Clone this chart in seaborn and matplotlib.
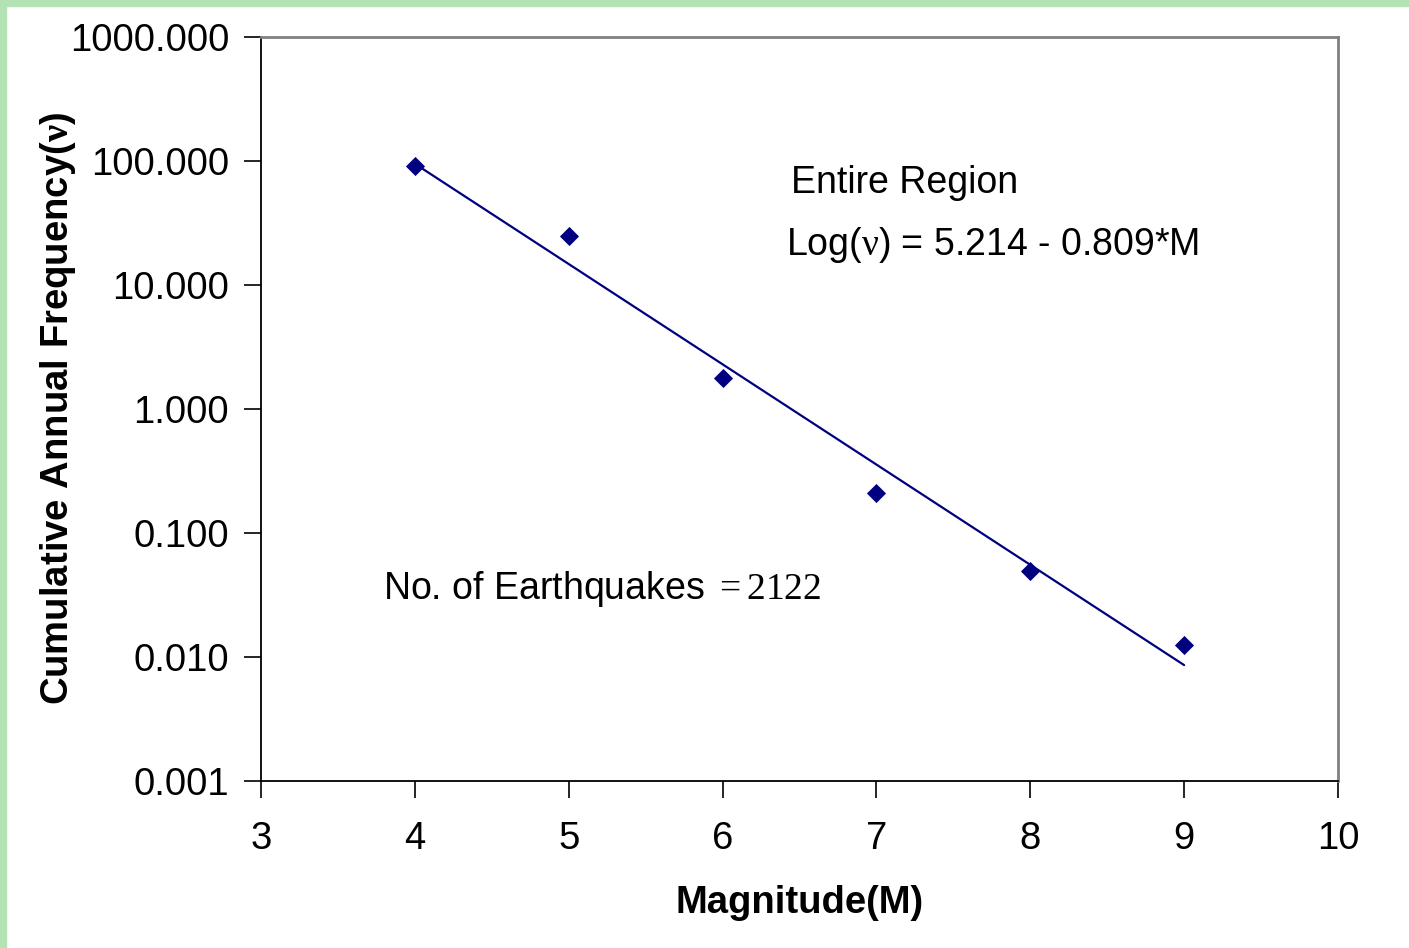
import matplotlib
matplotlib.use('Agg')
import matplotlib.pyplot as plt
import seaborn as sns
import pandas as pd
from matplotlib.patches import Rectangle
from matplotlib.ticker import FixedLocator, FixedFormatter, NullLocator

# Observed cumulative annual frequencies
magnitude = [4, 5, 6, 7, 8, 9]
frequency = [91.0, 25.0, 1.78, 0.21, 0.049, 0.0125]

# Fitted Gutenberg-Richter line (end points)
fit_magnitude = [4, 9]
fit_frequency = [95.0, 0.0086]

x_ticks = [3, 4, 5, 6, 7, 8, 9, 10]
y_ticks = [0.001, 0.01, 0.1, 1, 10, 100, 1000]
y_tick_labels = ['0.001', '0.010', '0.100', '1.000', '10.000', '100.000', '1000.000']

sns.set_style('white')
plt.rcParams['font.family'] = ['Liberation Sans', 'DejaVu Sans']
plt.rcParams['text.color'] = 'black'
plt.rcParams['axes.labelcolor'] = 'black'
plt.rcParams['xtick.color'] = 'black'
plt.rcParams['ytick.color'] = 'black'
# serif (Times-like) pieces such as the nu and "= 2122"
plt.rcParams['mathtext.fontset'] = 'custom'
plt.rcParams['mathtext.rm'] = 'Liberation Serif'
plt.rcParams['mathtext.it'] = 'Liberation Serif:italic'
plt.rcParams['mathtext.bf'] = 'Liberation Serif:bold'
plt.rcParams['mathtext.default'] = 'rm'

fig = plt.figure(figsize=(14.09, 9.48), dpi=100)
ax = fig.add_axes([0.1852, 0.1762, 0.7644, 0.7848])

navy = '#000080'
obs = pd.DataFrame({'M': magnitude, 'nu': frequency})
fit = pd.DataFrame({'M': fit_magnitude, 'nu': fit_frequency})

sns.lineplot(data=fit, x='M', y='nu', color=navy, linewidth=1.6, ax=ax)
sns.scatterplot(data=obs, x='M', y='nu', marker='D', s=95, color=navy,
                edgecolor=navy, linewidth=0, ax=ax, zorder=3)

ax.set_yscale('log')
ax.set_xlim(3, 10)
ax.set_ylim(0.001, 1000)
ax.xaxis.set_major_locator(FixedLocator(x_ticks))
ax.yaxis.set_major_locator(FixedLocator(y_ticks))
ax.yaxis.set_major_formatter(FixedFormatter(y_tick_labels))
ax.yaxis.set_minor_locator(NullLocator())
ax.tick_params(axis='both', direction='out', length=12, width=1.2,
               color='black', labelsize=27.5, bottom=True, left=True)
ax.tick_params(axis='x', pad=17)
ax.tick_params(axis='y', pad=11)

for side in ['left', 'bottom']:
    ax.spines[side].set_color('black')
    ax.spines[side].set_linewidth(1.3)
for side in ['top', 'right']:
    ax.spines[side].set_color('#808080')
    ax.spines[side].set_linewidth(2)

ax.set_xlabel('Magnitude(M)', fontsize=27.5, fontweight='bold', labelpad=20)
ax.set_ylabel(r'Cumulative Annual Frequency($\mathbf{\nu}$)', fontsize=27.5,
              fontweight='bold', labelpad=-6)

ax.text(0.492, 0.804, 'Entire Region', transform=ax.transAxes,
        fontsize=27, va='center', ha='left')
ax.text(0.4875, 0.720, r'Log($\nu$) = 5.214 - 0.809*M', transform=ax.transAxes,
        fontsize=27, va='center', ha='left')
ax.text(0.113, 0.258, r'No. of Earthquakes $= 2122$', transform=ax.transAxes,
        fontsize=27, va='center', ha='left')

# light green frame on top and left edges
green = '#b3e2b5'
fig.patches.append(Rectangle((0, 1 - 6 / 948), 1, 6 / 948, transform=fig.transFigure,
                             color=green, zorder=0))
fig.patches.append(Rectangle((0, 0), 6 / 1409, 1, transform=fig.transFigure,
                             color=green, zorder=0))

fig.savefig('out.png', dpi=100)
